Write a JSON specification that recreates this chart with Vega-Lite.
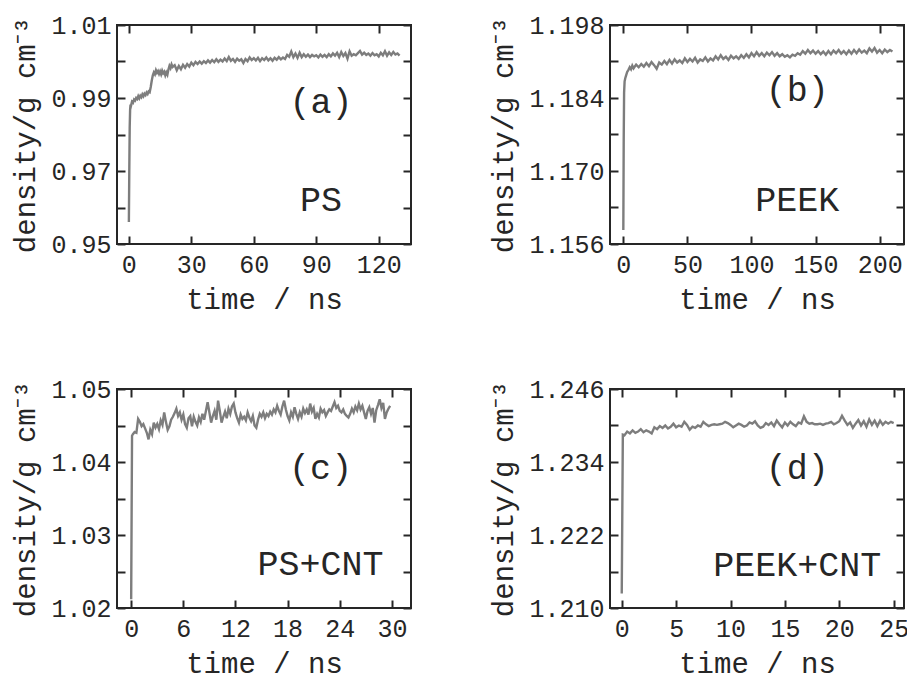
{
  "$schema": "https://vega.github.io/schema/vega-lite/v6.json",
  "padding": {"left": 10, "top": 12, "right": 2, "bottom": 2},
  "background": "white",
  "columns": 2,
  "spacing": {"row": 61, "column": 75},
  "config": {
    "font": "Liberation Mono",
    "view": {"stroke": "#262626", "strokeWidth": 2},
    "axis": {"domain": false, "grid": false, "tickSize": -8, "tickWidth": 2, "tickColor": "#262626",
      "labelFont": "Liberation Mono", "labelFontSize": 25, "labelColor": "#262626",
      "titleFont": "Liberation Mono", "titleFontSize": 29, "titleFontWeight": "normal", "titleColor": "#262626"},
    "axisX": {"labelPadding": 16, "titlePadding": 8},
    "axisY": {"labelPadding": 14, "titlePadding": 10}
  },
  "datasets": {
    "a": [
      {"t":0,"d":0.9560},{"t":0.2,"d":0.9700},{"t":0.4,"d":0.9820},{"t":0.6,"d":0.9868},{"t":0.8,"d":0.9882},{"t":1,"d":0.9878},{"t":1.5,"d":0.9890},{"t":2,"d":0.9887},{"t":2.5,"d":0.9896},{"t":3,"d":0.9893},{"t":3.5,"d":0.9900},{"t":4,"d":0.9897},{"t":4.5,"d":0.9905},{"t":5,"d":0.9899},{"t":5.5,"d":0.9906},{"t":6,"d":0.9902},{"t":6.5,"d":0.9910},{"t":7,"d":0.9905},{"t":7.5,"d":0.9912},{"t":8,"d":0.9908},{"t":8.5,"d":0.9915},{"t":9,"d":0.9911},{"t":9.5,"d":0.9918},{"t":10,"d":0.9916},{"t":10.5,"d":0.9930},{"t":11,"d":0.9948},{"t":11.5,"d":0.9962},{"t":12,"d":0.9970},{"t":12.5,"d":0.9965},{"t":13,"d":0.9976},{"t":13.5,"d":0.9969},{"t":14,"d":0.9974},{"t":14.5,"d":0.9966},{"t":15,"d":0.9973},{"t":15.5,"d":0.9965},{"t":16,"d":0.9975},{"t":16.5,"d":0.9968},{"t":17,"d":0.9972},{"t":17.5,"d":0.9962},{"t":18,"d":0.9970},{"t":18.5,"d":0.9964},{"t":19,"d":0.9978},{"t":19.5,"d":0.9988},{"t":20,"d":0.9982},{"t":20.5,"d":0.9992},{"t":21,"d":0.9985},{"t":22,"d":0.9990},{"t":23,"d":0.9976},{"t":24,"d":0.9988},{"t":25,"d":0.9979},{"t":26,"d":0.9991},{"t":27,"d":0.9983},{"t":28,"d":0.9993},{"t":29,"d":0.9986},
      {"t":30,"d":0.9997},{"t":31,"d":0.9990},{"t":32,"d":0.9999},{"t":33,"d":0.9993},{"t":34,"d":1.0000},{"t":35,"d":0.9994},{"t":36,"d":1.0001},{"t":37,"d":0.9996},{"t":38,"d":1.0003},{"t":39,"d":0.9997},{"t":40,"d":1.0004},{"t":41,"d":0.9998},{"t":42,"d":1.0006},{"t":43,"d":0.9999},{"t":44,"d":1.0005},{"t":45,"d":1.0000},{"t":46,"d":1.0008},{"t":47,"d":1.0001},{"t":48,"d":1.0012},{"t":49,"d":1.0002},{"t":50,"d":1.0007},{"t":51,"d":0.9999},{"t":52,"d":1.0008},{"t":53,"d":1.0002},{"t":54,"d":1.0006},{"t":55,"d":0.9996},{"t":56,"d":1.0007},{"t":57,"d":1.0001},{"t":58,"d":1.0011},{"t":59,"d":1.0004},{"t":60,"d":1.0009},{"t":61,"d":1.0003},{"t":62,"d":1.0010},{"t":63,"d":1.0001},{"t":64,"d":1.0009},{"t":65,"d":1.0004},{"t":66,"d":1.0011},{"t":67,"d":1.0003},{"t":68,"d":1.0009},{"t":69,"d":1.0002},{"t":70,"d":1.0010},{"t":71,"d":1.0005},{"t":72,"d":1.0012},{"t":73,"d":1.0006},{"t":74,"d":1.0011},{"t":75,"d":1.0007},{"t":76,"d":1.0018},{"t":77,"d":1.0013},{"t":78,"d":1.0027},{"t":79,"d":1.0012},{"t":80,"d":1.0022},{"t":81,"d":1.0010},{"t":82,"d":1.0024},{"t":83,"d":1.0012},{"t":84,"d":1.0020},{"t":85,"d":1.0013},{"t":86,"d":1.0019},{"t":87,"d":1.0012},{"t":88,"d":1.0018},{"t":89,"d":1.0014},{"t":90,"d":1.0017},{"t":91,"d":1.0011},{"t":92,"d":1.0019},{"t":93,"d":1.0013},{"t":94,"d":1.0018},{"t":95,"d":1.0012},{"t":96,"d":1.0020},{"t":97,"d":1.0014},{"t":98,"d":1.0022},{"t":99,"d":1.0016},{"t":100,"d":1.0024},{"t":101,"d":1.0012},{"t":102,"d":1.0026},{"t":103,"d":1.0015},{"t":104,"d":1.0023},{"t":105,"d":1.0008},{"t":106,"d":1.0028},{"t":107,"d":1.0016},{"t":108,"d":1.0020},{"t":109,"d":1.0017},{"t":110,"d":1.0023},{"t":111,"d":1.0029},{"t":112,"d":1.0019},{"t":113,"d":1.0024},{"t":114,"d":1.0018},{"t":115,"d":1.0022},{"t":116,"d":1.0016},{"t":117,"d":1.0023},{"t":118,"d":1.0017},{"t":119,"d":1.0020},{"t":120,"d":1.0014},{"t":121,"d":1.0024},{"t":122,"d":1.0017},{"t":123,"d":1.0028},{"t":124,"d":1.0016},{"t":125,"d":1.0025},{"t":126,"d":1.0018},{"t":127,"d":1.0026},{"t":128,"d":1.0019},{"t":129,"d":1.0022},{"t":130,"d":1.0016}
    ],
    "b": [
      {"t":0,"d":1.1587},{"t":0.3,"d":1.1760},{"t":0.6,"d":1.1850},{"t":1,"d":1.1872},{"t":1.5,"d":1.1878},{"t":2,"d":1.1882},{"t":3,"d":1.1890},{"t":4,"d":1.1894},{"t":5,"d":1.1899},{"t":6,"d":1.1895},{"t":7,"d":1.1902},{"t":8,"d":1.1897},{"t":10,"d":1.1904},{"t":12,"d":1.1899},{"t":14,"d":1.1905},{"t":16,"d":1.1900},{"t":18,"d":1.1907},{"t":20,"d":1.1901},{"t":22,"d":1.1909},{"t":24,"d":1.1903},{"t":26,"d":1.1896},{"t":28,"d":1.1908},{"t":30,"d":1.1904},{"t":32,"d":1.1911},{"t":34,"d":1.1905},{"t":36,"d":1.1913},{"t":38,"d":1.1906},{"t":40,"d":1.1914},{"t":42,"d":1.1908},{"t":44,"d":1.1912},{"t":46,"d":1.1907},{"t":48,"d":1.1916},{"t":50,"d":1.1909},{"t":52,"d":1.1915},{"t":54,"d":1.1910},{"t":56,"d":1.1917},{"t":58,"d":1.1908},{"t":60,"d":1.1914},{"t":62,"d":1.1911},{"t":64,"d":1.1918},{"t":66,"d":1.1910},{"t":68,"d":1.1916},{"t":70,"d":1.1912},{"t":72,"d":1.1920},{"t":74,"d":1.1914},{"t":76,"d":1.1922},{"t":78,"d":1.1915},{"t":80,"d":1.1919},{"t":82,"d":1.1913},{"t":84,"d":1.1921},{"t":86,"d":1.1916},{"t":88,"d":1.1920},{"t":90,"d":1.1915},{"t":92,"d":1.1922},{"t":94,"d":1.1917},{"t":96,"d":1.1924},{"t":98,"d":1.1918},{"t":100,"d":1.1926},{"t":102,"d":1.1920},{"t":104,"d":1.1928},{"t":106,"d":1.1921},{"t":108,"d":1.1926},{"t":110,"d":1.1920},{"t":112,"d":1.1927},{"t":114,"d":1.1922},{"t":116,"d":1.1928},{"t":118,"d":1.1921},{"t":120,"d":1.1926},{"t":122,"d":1.1920},{"t":124,"d":1.1924},{"t":126,"d":1.1919},{"t":128,"d":1.1922},{"t":130,"d":1.1918},{"t":132,"d":1.1923},{"t":134,"d":1.1921},{"t":136,"d":1.1926},{"t":138,"d":1.1923},{"t":140,"d":1.1930},{"t":142,"d":1.1925},{"t":144,"d":1.1932},{"t":146,"d":1.1926},{"t":148,"d":1.1931},{"t":150,"d":1.1925},{"t":152,"d":1.1930},{"t":154,"d":1.1924},{"t":156,"d":1.1929},{"t":158,"d":1.1923},{"t":160,"d":1.1930},{"t":162,"d":1.1924},{"t":164,"d":1.1931},{"t":166,"d":1.1926},{"t":168,"d":1.1932},{"t":170,"d":1.1925},{"t":172,"d":1.1930},{"t":174,"d":1.1924},{"t":176,"d":1.1931},{"t":178,"d":1.1925},{"t":180,"d":1.1932},{"t":182,"d":1.1926},{"t":184,"d":1.1933},{"t":186,"d":1.1927},{"t":188,"d":1.1931},{"t":190,"d":1.1926},{"t":192,"d":1.1935},{"t":194,"d":1.1929},{"t":196,"d":1.1936},{"t":198,"d":1.1927},{"t":200,"d":1.1932},{"t":202,"d":1.1926},{"t":204,"d":1.1933},{"t":206,"d":1.1928},{"t":208,"d":1.1932},{"t":210,"d":1.1929}
    ],
    "c": [
      {"t":0,"d":1.0212},{"t":0.1,"d":1.0436},{"t":0.2,"d":1.0438},{"t":0.4,"d":1.0441},{"t":0.6,"d":1.0440},{"t":0.8,"d":1.0459},{"t":1.0,"d":1.0455},{"t":1.2,"d":1.0449},{"t":1.4,"d":1.0452},{"t":1.6,"d":1.0446},{"t":1.8,"d":1.0440},{"t":2.0,"d":1.0431},{"t":2.2,"d":1.0444},{"t":2.4,"d":1.0438},{"t":2.6,"d":1.0454},{"t":2.8,"d":1.0447},{"t":3.0,"d":1.0452},{"t":3.2,"d":1.0445},{"t":3.4,"d":1.0457},{"t":3.6,"d":1.0451},{"t":3.8,"d":1.0468},{"t":4.0,"d":1.0455},{"t":4.2,"d":1.0444},{"t":4.4,"d":1.0449},{"t":4.6,"d":1.0458},{"t":4.8,"d":1.0462},{"t":5.0,"d":1.0467},{"t":5.2,"d":1.0473},{"t":5.4,"d":1.0463},{"t":5.6,"d":1.0468},{"t":5.8,"d":1.0458},{"t":6.0,"d":1.0465},{"t":6.2,"d":1.0452},{"t":6.4,"d":1.0447},{"t":6.6,"d":1.0460},{"t":6.8,"d":1.0463},{"t":7.0,"d":1.0449},{"t":7.2,"d":1.0462},{"t":7.4,"d":1.0455},{"t":7.6,"d":1.0450},{"t":7.8,"d":1.0461},{"t":8.0,"d":1.0455},{"t":8.2,"d":1.0466},{"t":8.4,"d":1.0458},{"t":8.6,"d":1.0470},{"t":8.8,"d":1.0482},{"t":9.0,"d":1.0468},{"t":9.2,"d":1.0454},{"t":9.4,"d":1.0463},{"t":9.6,"d":1.0470},{"t":9.8,"d":1.0458},{"t":10.0,"d":1.0484},{"t":10.2,"d":1.0470},{"t":10.4,"d":1.0454},{"t":10.6,"d":1.0462},{"t":10.8,"d":1.0469},{"t":11.0,"d":1.0460},{"t":11.2,"d":1.0473},{"t":11.4,"d":1.0466},{"t":11.6,"d":1.0476},{"t":11.8,"d":1.0480},{"t":12.0,"d":1.0468},{"t":12.2,"d":1.0460},{"t":12.4,"d":1.0454},{"t":12.6,"d":1.0465},{"t":12.8,"d":1.0459},{"t":13.0,"d":1.0462},{"t":13.2,"d":1.0457},{"t":13.4,"d":1.0468},{"t":13.6,"d":1.0461},{"t":13.8,"d":1.0456},{"t":14.0,"d":1.0463},{"t":14.2,"d":1.0450},{"t":14.4,"d":1.0447},{"t":14.6,"d":1.0458},{"t":14.8,"d":1.0466},{"t":15.0,"d":1.0462},{"t":15.2,"d":1.0468},{"t":15.4,"d":1.0460},{"t":15.6,"d":1.0466},{"t":15.8,"d":1.0463},{"t":16.0,"d":1.0469},{"t":16.2,"d":1.0465},{"t":16.4,"d":1.0472},{"t":16.6,"d":1.0468},{"t":16.8,"d":1.0477},{"t":17.0,"d":1.0470},{"t":17.2,"d":1.0465},{"t":17.4,"d":1.0476},{"t":17.6,"d":1.0484},{"t":17.8,"d":1.0472},{"t":18.0,"d":1.0463},{"t":18.2,"d":1.0457},{"t":18.4,"d":1.0468},{"t":18.6,"d":1.0462},{"t":18.8,"d":1.0475},{"t":19.0,"d":1.0466},{"t":19.2,"d":1.0459},{"t":19.4,"d":1.0468},{"t":19.6,"d":1.0462},{"t":19.8,"d":1.0473},{"t":20.0,"d":1.0467},{"t":20.2,"d":1.0472},{"t":20.4,"d":1.0465},{"t":20.6,"d":1.0480},{"t":20.8,"d":1.0469},{"t":21.0,"d":1.0474},{"t":21.2,"d":1.0459},{"t":21.4,"d":1.0466},{"t":21.6,"d":1.0461},{"t":21.8,"d":1.0473},{"t":22.0,"d":1.0468},{"t":22.2,"d":1.0471},{"t":22.4,"d":1.0463},{"t":22.6,"d":1.0468},{"t":22.8,"d":1.0472},{"t":23.0,"d":1.0470},{"t":23.2,"d":1.0476},{"t":23.4,"d":1.0482},{"t":23.6,"d":1.0474},{"t":23.8,"d":1.0477},{"t":24.0,"d":1.0470},{"t":24.2,"d":1.0468},{"t":24.4,"d":1.0472},{"t":24.6,"d":1.0466},{"t":24.8,"d":1.0463},{"t":25.0,"d":1.0461},{"t":25.2,"d":1.0466},{"t":25.4,"d":1.0473},{"t":25.6,"d":1.0468},{"t":25.8,"d":1.0476},{"t":26.0,"d":1.0471},{"t":26.2,"d":1.0480},{"t":26.4,"d":1.0472},{"t":26.6,"d":1.0477},{"t":26.8,"d":1.0468},{"t":27.0,"d":1.0459},{"t":27.2,"d":1.0470},{"t":27.4,"d":1.0475},{"t":27.6,"d":1.0466},{"t":27.8,"d":1.0474},{"t":28.0,"d":1.0454},{"t":28.2,"d":1.0471},{"t":28.4,"d":1.0478},{"t":28.6,"d":1.0486},{"t":28.8,"d":1.0474},{"t":29.0,"d":1.0481},{"t":29.2,"d":1.0459},{"t":29.4,"d":1.0468},{"t":29.6,"d":1.0473},{"t":29.8,"d":1.0477}
    ],
    "d": [
      {"t":0,"d":1.2124},{"t":0.1,"d":1.2385},{"t":0.25,"d":1.2384},{"t":0.5,"d":1.2390},{"t":0.75,"d":1.2387},{"t":1.0,"d":1.2392},{"t":1.25,"d":1.2388},{"t":1.5,"d":1.2390},{"t":1.75,"d":1.2394},{"t":2.0,"d":1.2389},{"t":2.25,"d":1.2392},{"t":2.5,"d":1.2390},{"t":2.75,"d":1.2387},{"t":3.0,"d":1.2397},{"t":3.25,"d":1.2394},{"t":3.5,"d":1.2399},{"t":3.75,"d":1.2396},{"t":4.0,"d":1.2400},{"t":4.25,"d":1.2395},{"t":4.5,"d":1.2398},{"t":4.75,"d":1.2403},{"t":5.0,"d":1.2397},{"t":5.25,"d":1.2400},{"t":5.5,"d":1.2398},{"t":5.75,"d":1.2406},{"t":6.0,"d":1.2401},{"t":6.25,"d":1.2393},{"t":6.5,"d":1.2398},{"t":6.75,"d":1.2396},{"t":7.0,"d":1.2400},{"t":7.25,"d":1.2398},{"t":7.5,"d":1.2406},{"t":7.75,"d":1.2402},{"t":8.0,"d":1.2399},{"t":8.25,"d":1.2401},{"t":8.5,"d":1.2402},{"t":8.75,"d":1.2401},{"t":9.0,"d":1.2402},{"t":9.25,"d":1.2403},{"t":9.5,"d":1.2406},{"t":9.75,"d":1.2404},{"t":10.0,"d":1.2401},{"t":10.25,"d":1.2397},{"t":10.5,"d":1.2400},{"t":10.75,"d":1.2403},{"t":11.0,"d":1.2401},{"t":11.25,"d":1.2398},{"t":11.5,"d":1.2400},{"t":11.75,"d":1.2405},{"t":12.0,"d":1.2403},{"t":12.25,"d":1.2407},{"t":12.5,"d":1.2400},{"t":12.75,"d":1.2396},{"t":13.0,"d":1.2398},{"t":13.25,"d":1.2404},{"t":13.5,"d":1.2401},{"t":13.75,"d":1.2405},{"t":14.0,"d":1.2399},{"t":14.25,"d":1.2408},{"t":14.5,"d":1.2402},{"t":14.75,"d":1.2397},{"t":15.0,"d":1.2405},{"t":15.25,"d":1.2400},{"t":15.5,"d":1.2406},{"t":15.75,"d":1.2402},{"t":16.0,"d":1.2399},{"t":16.25,"d":1.2405},{"t":16.5,"d":1.2403},{"t":16.75,"d":1.2415},{"t":17.0,"d":1.2406},{"t":17.25,"d":1.2403},{"t":17.5,"d":1.2404},{"t":17.75,"d":1.2402},{"t":18.0,"d":1.2402},{"t":18.25,"d":1.2403},{"t":18.5,"d":1.2401},{"t":18.75,"d":1.2403},{"t":19.0,"d":1.2404},{"t":19.25,"d":1.2406},{"t":19.5,"d":1.2402},{"t":19.75,"d":1.2404},{"t":20.0,"d":1.2407},{"t":20.25,"d":1.2416},{"t":20.5,"d":1.2408},{"t":20.75,"d":1.2401},{"t":21.0,"d":1.2405},{"t":21.25,"d":1.2396},{"t":21.5,"d":1.2403},{"t":21.75,"d":1.2409},{"t":22.0,"d":1.2400},{"t":22.25,"d":1.2407},{"t":22.5,"d":1.2398},{"t":22.75,"d":1.2410},{"t":23.0,"d":1.2401},{"t":23.25,"d":1.2408},{"t":23.5,"d":1.2399},{"t":23.75,"d":1.2408},{"t":24.0,"d":1.2401},{"t":24.25,"d":1.2406},{"t":24.5,"d":1.2403},{"t":24.75,"d":1.2406},{"t":25.0,"d":1.2404}
    ]
  },
  "concat": [
    {
      "width": 294, "height": 219,
      "layer": [
        {"data": {"name": "a"}, "mark": {"type": "line", "color": "#7d7d7d", "strokeWidth": 2.4},
         "encoding": {
          "x": {"field": "t", "type": "quantitative", "scale": {"domain": [-5.7, 135.5], "nice": false, "zero": false}, "axis": {"orient": "bottom", "values": [0,30,60,90,120], "title": "time / ns"}},
          "y": {"field": "d", "type": "quantitative", "scale": {"domain": [0.95, 1.01], "nice": false, "zero": false}, "axis": {"orient": "left", "values": [0.95,0.96,0.97,0.98,0.99,1.00,1.01], "format": ".2f", "labelExpr": "indexof(['0.95','0.97','0.99','1.01'], datum.label) >= 0 ? datum.label : ''", "title": "density/g cm⁻³"}}
        }},
        {"data": {"name": "a"}, "mark": {"type": "line", "opacity": 0},
         "encoding": {
          "x": {"field": "t", "type": "quantitative", "axis": {"orient": "top", "values": [0,30,60,90,120], "labels": false, "title": null}},
          "y": {"field": "d", "type": "quantitative", "axis": {"orient": "right", "values": [0.95,0.96,0.97,0.98,0.99,1.00,1.01], "labels": false, "title": null}}
        }},
        {"data": {"values": [{"label": "(a)", "t": 92.3, "d": 0.9889}, {"label": "PS", "t": 92.3, "d": 0.9621}]},
         "mark": {"type": "text", "font": "Liberation Mono", "fontSize": 35, "color": "#262626", "align": "center", "baseline": "middle"},
         "encoding": {"x": {"field": "t", "type": "quantitative", "axis": null}, "y": {"field": "d", "type": "quantitative", "axis": null}, "text": {"field": "label"}}}
      ],
      "resolve": {"axis": {"x": "independent", "y": "independent"}}
    },
    {
      "width": 294, "height": 219,
      "layer": [
        {"data": {"name": "b"}, "mark": {"type": "line", "color": "#7d7d7d", "strokeWidth": 2.4},
         "encoding": {
          "x": {"field": "t", "type": "quantitative", "scale": {"domain": [-10.4, 219], "nice": false, "zero": false}, "axis": {"orient": "bottom", "values": [0,50,100,150,200], "title": "time / ns"}},
          "y": {"field": "d", "type": "quantitative", "scale": {"domain": [1.156, 1.198], "nice": false, "zero": false}, "axis": {"orient": "left", "values": [1.156,1.163,1.170,1.177,1.184,1.191,1.198], "format": ".3f", "labelExpr": "indexof(['1.156','1.170','1.184','1.198'], datum.label) >= 0 ? datum.label : ''", "title": "density/g cm⁻³"}}
        }},
        {"data": {"name": "b"}, "mark": {"type": "line", "opacity": 0},
         "encoding": {
          "x": {"field": "t", "type": "quantitative", "axis": {"orient": "top", "values": [0,50,100,150,200], "labels": false, "title": null}},
          "y": {"field": "d", "type": "quantitative", "axis": {"orient": "right", "values": [1.156,1.163,1.170,1.177,1.184,1.191,1.198], "labels": false, "title": null}}
        }},
        {"data": {"values": [{"label": "(b)", "t": 135.7, "d": 1.18545}, {"label": "PEEK", "t": 135.7, "d": 1.16444}]},
         "mark": {"type": "text", "font": "Liberation Mono", "fontSize": 35, "color": "#262626", "align": "center", "baseline": "middle"},
         "encoding": {"x": {"field": "t", "type": "quantitative", "axis": null}, "y": {"field": "d", "type": "quantitative", "axis": null}, "text": {"field": "label"}}}
      ],
      "resolve": {"axis": {"x": "independent", "y": "independent"}}
    },
    {
      "width": 294, "height": 219,
      "layer": [
        {"data": {"name": "c"}, "mark": {"type": "line", "color": "#7d7d7d", "strokeWidth": 2.4},
         "encoding": {
          "x": {"field": "t", "type": "quantitative", "scale": {"domain": [-1.63, 32.2], "nice": false, "zero": false}, "axis": {"orient": "bottom", "values": [0,6,12,18,24,30], "title": "time / ns"}},
          "y": {"field": "d", "type": "quantitative", "scale": {"domain": [1.02, 1.05], "nice": false, "zero": false}, "axis": {"orient": "left", "values": [1.02,1.025,1.03,1.035,1.04,1.045,1.05], "format": ".3f", "labelExpr": "indexof(['1.020','1.030','1.040','1.050'], datum.label) >= 0 ? format(datum.value, '.2f') : ''", "title": "density/g cm⁻³"}}
        }},
        {"data": {"name": "c"}, "mark": {"type": "line", "opacity": 0},
         "encoding": {
          "x": {"field": "t", "type": "quantitative", "axis": {"orient": "top", "values": [0,6,12,18,24,30], "labels": false, "title": null}},
          "y": {"field": "d", "type": "quantitative", "axis": {"orient": "right", "values": [1.02,1.025,1.03,1.035,1.04,1.045,1.05], "labels": false, "title": null}}
        }},
        {"data": {"values": [{"label": "(c)", "t": 21.8, "d": 1.03924}, {"label": "PS+CNT", "t": 21.8, "d": 1.02596}]},
         "mark": {"type": "text", "font": "Liberation Mono", "fontSize": 35, "color": "#262626", "align": "center", "baseline": "middle"},
         "encoding": {"x": {"field": "t", "type": "quantitative", "axis": null}, "y": {"field": "d", "type": "quantitative", "axis": null}, "text": {"field": "label"}}}
      ],
      "resolve": {"axis": {"x": "independent", "y": "independent"}}
    },
    {
      "width": 294, "height": 219,
      "layer": [
        {"data": {"name": "d"}, "mark": {"type": "line", "color": "#7d7d7d", "strokeWidth": 2.4},
         "encoding": {
          "x": {"field": "t", "type": "quantitative", "scale": {"domain": [-1.08, 25.95], "nice": false, "zero": false}, "axis": {"orient": "bottom", "values": [0,5,10,15,20,25], "title": "time / ns"}},
          "y": {"field": "d", "type": "quantitative", "scale": {"domain": [1.21, 1.246], "nice": false, "zero": false}, "axis": {"orient": "left", "values": [1.210,1.216,1.222,1.228,1.234,1.240,1.246], "format": ".3f", "labelExpr": "indexof(['1.210','1.222','1.234','1.246'], datum.label) >= 0 ? datum.label : ''", "title": "density/g cm⁻³"}}
        }},
        {"data": {"name": "d"}, "mark": {"type": "line", "opacity": 0},
         "encoding": {
          "x": {"field": "t", "type": "quantitative", "axis": {"orient": "top", "values": [0,5,10,15,20,25], "labels": false, "title": null}},
          "y": {"field": "d", "type": "quantitative", "axis": {"orient": "right", "values": [1.210,1.216,1.222,1.228,1.234,1.240,1.246], "labels": false, "title": null}}
        }},
        {"data": {"values": [{"label": "(d)", "t": 16.14, "d": 1.23301}, {"label": "PEEK+CNT", "t": 16.14, "d": 1.2171}]},
         "mark": {"type": "text", "font": "Liberation Mono", "fontSize": 35, "color": "#262626", "align": "center", "baseline": "middle"},
         "encoding": {"x": {"field": "t", "type": "quantitative", "axis": null}, "y": {"field": "d", "type": "quantitative", "axis": null}, "text": {"field": "label"}}}
      ],
      "resolve": {"axis": {"x": "independent", "y": "independent"}}
    }
  ]
}
